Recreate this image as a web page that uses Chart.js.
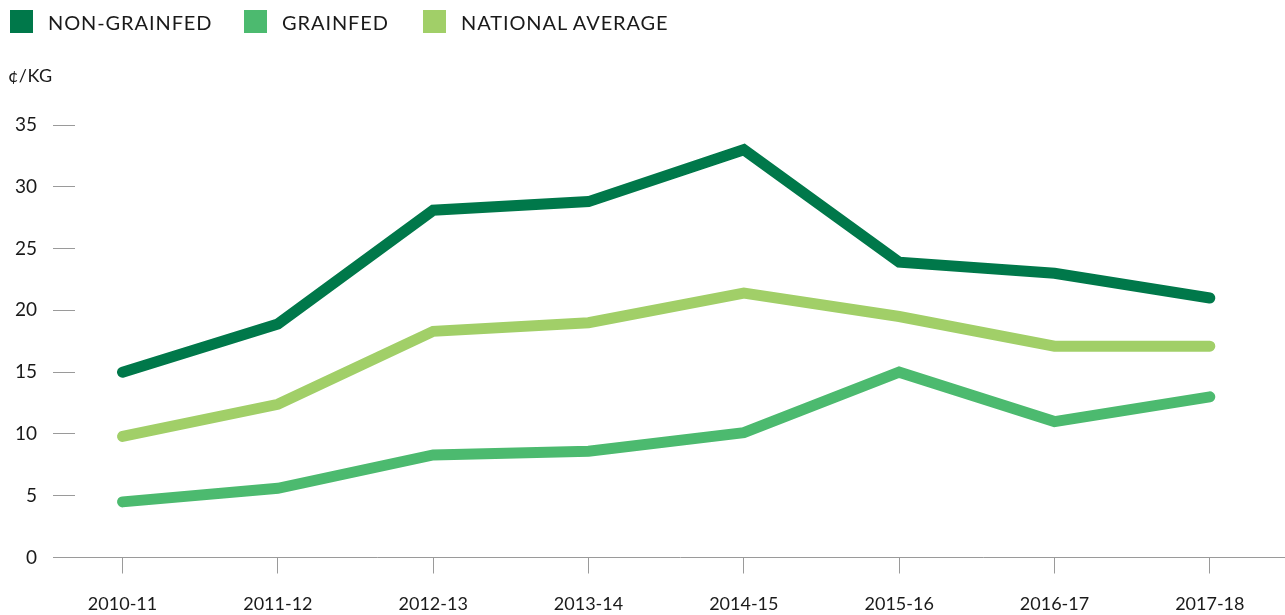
<!DOCTYPE html>
<html><head><meta charset="utf-8">
<script src="https://cdn.jsdelivr.net/npm/chart.js@4/dist/chart.umd.min.js"></script>
<style>
html,body{margin:0;padding:0;background:#fff;}
#wrap{position:relative;width:1285px;height:615px;overflow:hidden;}
canvas{position:absolute;left:0;top:0;}
.leg{position:absolute;top:10px;height:23px;display:flex;align-items:center;font-family:Lato,sans-serif;font-size:20px;letter-spacing:0.9px;color:#1a1a1a;white-space:nowrap;}
.leg .b{display:inline-block;width:23px;height:23px;margin-right:15px;}
#unit{position:absolute;left:8px;top:64px;font-family:Lato,sans-serif;font-size:18px;letter-spacing:0.4px;color:#1a1a1a;}
</style></head>
<body>
<div id="wrap">
<canvas id="c" width="1285" height="615"></canvas>
<div id="legend"></div>
<div id="unit">¢/KG</div>
</div>
<script>
const categories = ['2010-11','2011-12','2012-13','2013-14','2014-15','2015-16','2016-17','2017-18'];
const nonGrainfed = [15.0, 18.9, 28.1, 28.8, 33.0, 23.9, 23.0, 21.0];
const grainfed = [4.5, 5.6, 8.3, 8.6, 10.1, 15.0, 11.0, 13.0];
const nationalAverage = [9.8, 12.4, 18.3, 19.0, 21.4, 19.5, 17.1, 17.1];
const seriesNames = ['NON-GRAINFED', 'GRAINFED', 'NATIONAL AVERAGE'];
const seriesColors = ['#00784a', '#4cba6f', '#a1cf68'];
const yTicks = [0, 5, 10, 15, 20, 25, 30, 35];

const legendLeft = [10, 244, 423];
const legend = document.getElementById('legend');
seriesNames.forEach((n, i) => {
  const d = document.createElement('div');
  d.className = 'leg';
  d.style.left = legendLeft[i] + 'px';
  d.innerHTML = '<span class="b" style="background:' + seriesColors[i] + '"></span><span>' + n + '</span>';
  legend.appendChild(d);
});

const toPts = arr => arr.map((v, i) => ({x: i, y: v}));
const mk = (label, arr, color) => ({
  label, data: toPts(arr), borderColor: color, backgroundColor: color,
  borderWidth: 11, pointRadius: 0, tension: 0, fill: false,
  borderCapStyle: 'round', borderJoinStyle: 'miter'
});

const fontFam = 'Lato, sans-serif';
new Chart(document.getElementById('c'), {
  type: 'line',
  data: {
    datasets: [
      mk(seriesNames[0], nonGrainfed, seriesColors[0]),
      mk(seriesNames[1], grainfed, seriesColors[1]),
      mk(seriesNames[2], nationalAverage, seriesColors[2])
    ]
  },
  options: {
    responsive: false,
    animation: false,
    layout: {padding: {top: 125, left: 0, right: 0, bottom: 0}},
    plugins: {legend: {display: false}, tooltip: {enabled: false}},
    scales: {
      x: {
        type: 'linear',
        min: -0.306,
        max: 7.484,
        afterBuildTicks: s => { s.ticks = categories.map((c, i) => ({value: i})); },
        afterFit: s => { s.height = 57.5; },
        grid: {drawOnChartArea: false, tickLength: 16, color: '#9a9a9a', lineWidth: 1},
        border: {display: true, color: '#9a9a9a', width: 1},
        ticks: {
          callback: v => categories[v] !== undefined ? categories[v] : '',
          padding: 20, color: '#1a1a1a', font: {family: fontFam, size: 18}, maxRotation: 0, autoSkip: false
        }
      },
      y: {
        min: 0, max: 35,
        afterBuildTicks: s => { s.ticks = yTicks.map(v => ({value: v})); },
        afterFit: s => { s.width = 75; },
        grid: {drawOnChartArea: false, tickLength: 22, color: '#9a9a9a', lineWidth: 1},
        border: {display: false},
        ticks: {padding: 16, color: '#1a1a1a', font: {family: fontFam, size: 19}}
      }
    }
  }
});
</script>
</body></html>
